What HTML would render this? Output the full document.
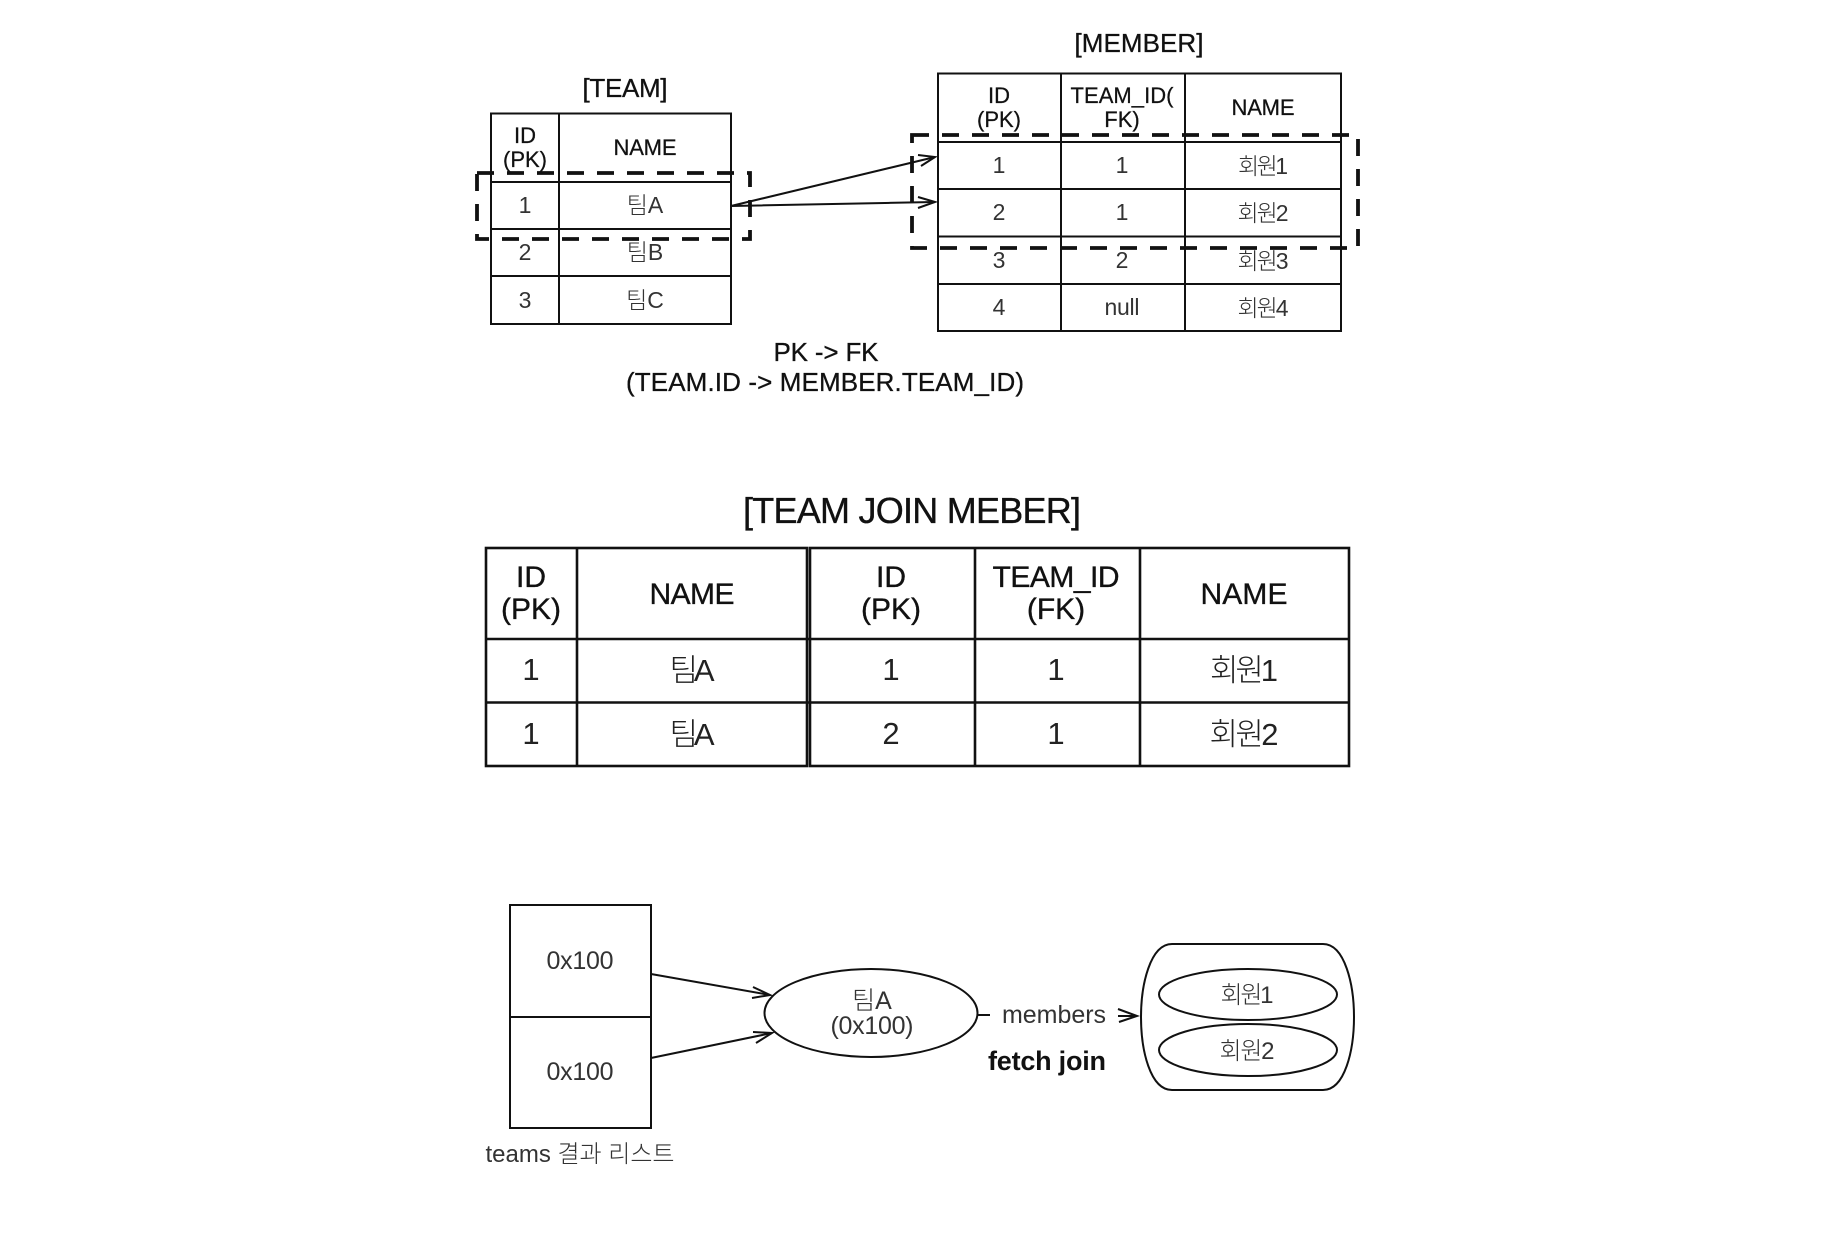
<!DOCTYPE html>
<html><head><meta charset="utf-8"><style>
html,body{margin:0;padding:0;background:#fff}
svg{display:block;filter:blur(.35px)}
text{font-family:"Liberation Sans","Noto Sans CJK KR",sans-serif;text-anchor:middle;fill:#000}
.h{font-size:22px;fill:#111;stroke:#111;stroke-width:.25}
.r{font-size:23px;fill:#333}
.t{font-size:26px;fill:#111;stroke:#111;stroke-width:.3}
.j{font-size:30px;fill:#111;stroke:#111;stroke-width:.35}
.jr{font-size:31px;fill:#222}
.b{font-size:25px;fill:#333}
.k{font-family:"Liberation Sans","Noto Sans CJK KR",sans-serif;font-weight:300}
</style></head><body>
<svg xmlns="http://www.w3.org/2000/svg" width="1822" height="1254" viewBox="0 0 1822 1254">
<rect width="1822" height="1254" fill="#fff"/>
<g fill="none" stroke="#111" stroke-width="2">
<!-- TEAM table -->
<rect x="491" y="113.500" width="240" height="210.500"/>
<path d="M559 113.500V324M491 182H731M491 229H731M491 276H731"/>
<!-- MEMBER table -->
<rect x="938" y="73.500" width="403" height="257.500"/>
<path d="M1061 73.500V331M1185 73.500V331M938 142H1341M938 189H1341M938 236.500H1341M938 284H1341"/>
</g>
<!-- dashed -->
<g fill="none" stroke="#111" stroke-width="3.800" stroke-dasharray="17,13">
<rect x="477" y="173" width="273" height="66"/>
<rect x="912" y="135" width="446" height="113"/>
</g>
<!-- arrows top -->
<g fill="none" stroke="#111" stroke-width="2">
<path d="M731 206L935 157M731 206L935 202"/>
<path d="M918 155L935 157L921 166M918 197L935 202L918 208"/>
</g>
<text class="t" x="625" y="97" textLength="85">[TEAM]</text>
<text class="h" x="525" y="143">ID</text><text class="h" x="525" y="167">(PK)</text>
<text class="h" x="645" y="155" textLength="63">NAME</text>
<text class="r" x="525" y="213">1</text><text class="r k" x="645" y="213">팀A</text>
<text class="r" x="525" y="260">2</text><text class="r k" x="645" y="260">팀B</text>
<text class="r" x="525" y="308">3</text><text class="r k" x="645" y="308">팀C</text>

<text class="t" x="1139" y="52" textLength="129">[MEMBER]</text>
<text class="h" x="999" y="103">ID</text><text class="h" x="999" y="127">(PK)</text>
<text class="h" x="1122" y="103" textLength="103">TEAM_ID(</text><text class="h" x="1122" y="127">FK)</text>
<text class="h" x="1263" y="115" textLength="63">NAME</text>
<text class="r" x="999" y="173">1</text><text class="r" x="1122" y="173">1</text><text class="r k" x="1263" y="174" textLength="50">회원1</text>
<text class="r" x="999" y="220">2</text><text class="r" x="1122" y="220">1</text><text class="r k" x="1263" y="221" textLength="51">회원2</text>
<text class="r" x="999" y="268">3</text><text class="r" x="1122" y="268">2</text><text class="r k" x="1263" y="269" textLength="51">회원3</text>
<text class="r" x="999" y="315">4</text><text class="r" x="1122" y="315" textLength="35">null</text><text class="r k" x="1263" y="316" textLength="51">회원4</text>

<text class="t" x="826" y="361" textLength="105">PK -&gt; FK</text>
<text class="t" x="825" y="391" textLength="398">(TEAM.ID -&gt; MEMBER.TEAM_ID)</text>

<!-- JOIN -->
<text class="j" x="912" y="523" style="font-size:36px" textLength="338">[TEAM JOIN MEBER]</text>
<g fill="none" stroke="#111" stroke-width="2.600">
<rect x="486" y="548" width="321" height="218"/>
<rect x="810" y="548" width="539" height="218"/>
<path d="M577 548V766M975 548V766M1140 548V766M486 639H1349M486 702.500H1349"/>
</g>
<text class="j" x="531" y="587">ID</text><text class="j" x="531" y="619">(PK)</text>
<text class="j" x="692" y="604" textLength="85">NAME</text>
<text class="j" x="891" y="587">ID</text><text class="j" x="891" y="619">(PK)</text>
<text class="j" x="1056" y="587" textLength="127">TEAM_ID</text><text class="j" x="1056" y="619">(FK)</text>
<text class="j" x="1244" y="604" textLength="87">NAME</text>
<text class="jr" x="531" y="680">1</text><text class="jr k" x="692" y="681" textLength="45">팀A</text><text class="jr" x="891" y="680">1</text><text class="jr" x="1056" y="680">1</text><text class="jr k" x="1244" y="681" textLength="68">회원1</text>
<text class="jr" x="531" y="744">1</text><text class="jr k" x="692" y="745" textLength="45">팀A</text><text class="jr" x="891" y="744">2</text><text class="jr" x="1056" y="744">1</text><text class="jr k" x="1244" y="745" textLength="69">회원2</text>

<!-- bottom -->
<g fill="none" stroke="#111" stroke-width="2">
<rect x="510" y="905" width="141" height="223"/>
<path d="M510 1017H651"/>
<ellipse cx="871" cy="1013" rx="106.500" ry="44"/>
<path d="M651 974L770 995M651 1058L772 1033"/>
<path d="M753 987L770 995L752 998M753 1032L772 1033L756 1043"/>
<path d="M977 1015H990M1118 1009L1137 1016L1119 1022M1118 1016H1137"/>
<path d="M1172 944H1323C1345 944 1354 985 1354 1017C1354 1050 1345 1090 1323 1090H1172C1150 1090 1141 1050 1141 1017C1141 985 1150 944 1172 944Z"/>
<ellipse cx="1248" cy="994.500" rx="89" ry="25.500"/>
<ellipse cx="1248" cy="1050" rx="89" ry="26"/>
</g>
<text class="b" x="580" y="969" textLength="67">0x100</text>
<text class="b" x="580" y="1080" textLength="67">0x100</text>
<text class="b k" x="872" y="1009">팀A</text>
<text class="b" x="872" y="1034" textLength="83">(0x100)</text>
<text class="b k" x="580" y="1162" textLength="189" style="font-size:24px">teams 결과 리스트</text>
<text class="b" x="1054" y="1023" textLength="104">members</text>
<text x="1047" y="1070" style="font-size:27px;font-weight:700;fill:#111" textLength="118">fetch join</text>
<text class="b k" x="1247" y="1003" style="font-size:24px" textLength="53">회원1</text>
<text class="b k" x="1247" y="1059" style="font-size:24px" textLength="55">회원2</text>
</svg>
</body></html>
